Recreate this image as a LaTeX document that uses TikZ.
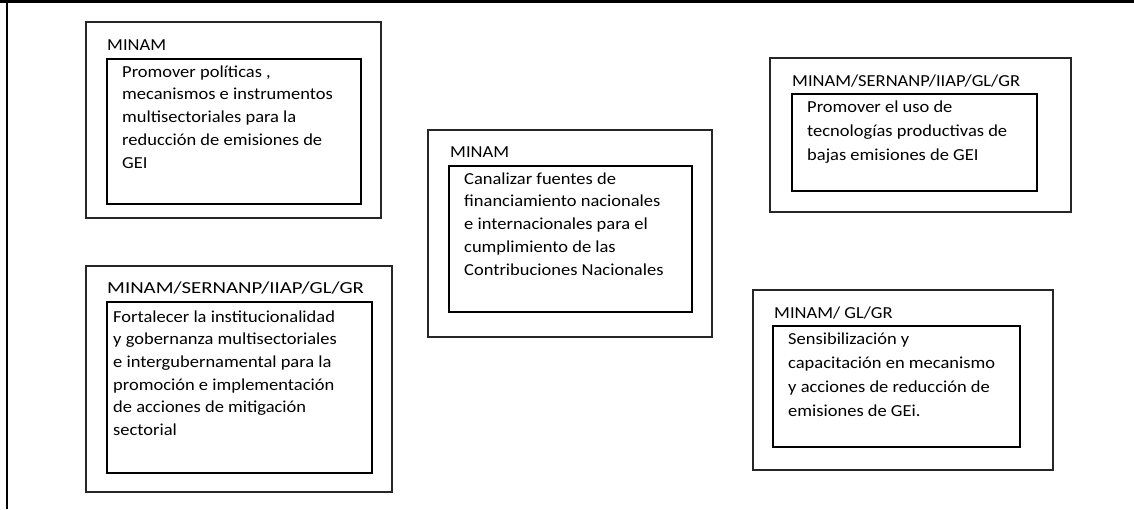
\documentclass[tikz,border=0pt]{standalone}
\usepackage{fontspec}
\setmainfont{Carlito}[FakeStretch=1.1]
\newfontfamily\widelbl{Carlito}[FakeStretch=1.24]
\begin{document}
\begin{tikzpicture}[x=1pt,y=-1pt,
  outerbox/.style={draw=black!85, line width=1.3pt, inner sep=0pt, outer sep=0pt},
  innerbox/.style={draw=black, line width=2pt, inner sep=0pt, outer sep=0pt},
  lbl/.style={anchor=base west, inner sep=0pt, font=\fontsize{16.8}{20}\selectfont},
  body/.style={anchor=base west, inner sep=0pt, align=left, font=\fontsize{16.8}{22.7}\selectfont},
  frame/.style={draw=black}]
\useasboundingbox (0,0) rectangle (1134,509);
% page frame (top and left edges)
\coordinate (tl) at (7,1.5);
\coordinate (tr) at (1134,1.5);
\coordinate (bl) at (7,509);
\coordinate (t0) at (0,1.5);
\draw[frame, line width=3pt] (t0) -- (tr);
\draw[frame, line width=2pt] (tl) -- (bl);

% Box 1
\node[outerbox, minimum width=295pt, minimum height=196pt] (o1) at (233.5,120) {};
\node[innerbox, minimum width=254pt, minimum height=145pt] (i1) at (234,131.5) {};
\node[lbl] (l1) at (107,50.5) {MINAM};
\node[body] (t1) at (122,168) {Promover políticas ,\\mecanismos e instrumentos\\multisectoriales para la\\reducción de emisiones de\\GEI};

% Box 2
\node[outerbox, minimum width=306pt, minimum height=226pt] (o2) at (239,379) {};
\node[innerbox, minimum width=265pt, minimum height=171pt] (i2) at (239.5,387.5) {};
\node[lbl, font=\fontsize{16.8}{20}\widelbl] (l2) at (107,293) {MINAM/SERNANP/IIAP/GL/GR};
\node[body] (t2) at (113,435.5) {Fortalecer la institucionalidad\\y gobernanza multisectoriales\\e intergubernamental para la\\promoción e implementación\\de acciones de mitigación\\sectorial};

% Box 3
\node[outerbox, minimum width=284pt, minimum height=207pt] (o3) at (570,233.5) {};
\node[innerbox, minimum width=243pt, minimum height=146pt] (i3) at (570.5,239) {};
\node[lbl] (l3) at (450,157) {MINAM};
\node[body] (t3) at (464,275) {Canalizar fuentes de\\financiamiento nacionales\\e internacionales para el\\cumplimiento de las\\Contribuciones Nacionales};

% Box 4
\node[outerbox, minimum width=301pt, minimum height=154pt] (o4) at (920.5,135) {};
\node[innerbox, minimum width=245pt, minimum height=97pt] (i4) at (914.5,142.5) {};
\node[lbl] (l4) at (792,86) {MINAM/SERNANP/IIAP/GL/GR};
\node[body, font=\fontsize{16.8}{24}\selectfont] (t4) at (807,160) {Promover el uso de\\tecnologías productivas de\\bajas emisiones de GEI};

% Box 5
\node[outerbox, minimum width=300pt, minimum height=180pt] (o5) at (903,380) {};
\node[innerbox, minimum width=247pt, minimum height=121pt] (i5) at (896.5,386.5) {};
\node[lbl] (l5) at (774,318) {MINAM/ GL/GR};
\node[body, font=\fontsize{16.8}{23.7}\selectfont] (t5) at (788,416) {Sensibilización y\\capacitación en mecanismo\\y acciones de reducción de\\emisiones de GEi.};
\end{tikzpicture}
\end{document}
